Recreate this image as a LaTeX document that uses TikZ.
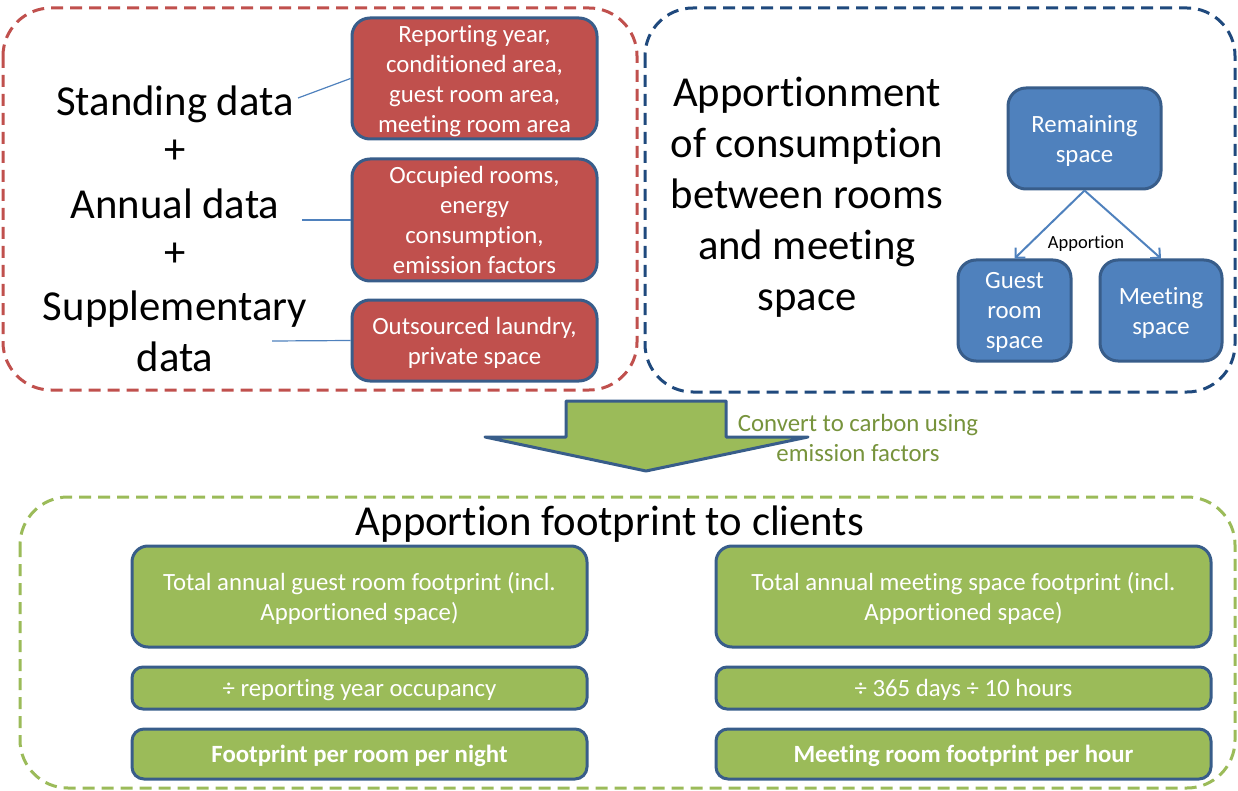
\documentclass[tikz,border=0pt]{standalone}
\usepackage{fontspec}
\setmainfont{Carlito}[Ligatures=NoCommon]
\usepackage{tikz}
\usetikzlibrary{arrows.meta}
\definecolor{fpred}{RGB}{192, 80, 77}
\definecolor{fpblue}{RGB}{79, 129, 189}
\definecolor{fpgreen}{RGB}{155, 187, 89}
\definecolor{fpnavy}{RGB}{56, 93, 138}
\definecolor{fpdarkblue}{RGB}{31, 73, 125}
\definecolor{fpolive}{RGB}{119, 147, 60}

\tikzset{
  bigtext/.style={inner sep=0pt, text depth=0pt, align=center, font=\fontsize{42.7}{51}\selectfont},
  boxtext/.style={inner sep=0pt, text depth=0pt, align=center, text=white, font=\fontsize{24.8}{30}\selectfont},
  databox/.style={boxtext, draw=fpnavy, line width=3pt, rounded corners=18pt, fill=fpred},
  spacebox/.style={boxtext, draw=fpnavy, line width=3pt, rounded corners=18pt, fill=fpblue},
  clientbox/.style={boxtext, draw=fpnavy, line width=3pt, rounded corners=16pt, fill=fpgreen},
  group/.style={line width=3pt, dash pattern=on 12pt off 7pt, rounded corners=48pt},
  link/.style={fpblue, line width=1.2pt},
  split/.style={fpblue, line width=2pt, -{Straight Barb[length=7pt, width=14pt]}}
}

\begin{document}
\begin{tikzpicture}[x=1pt, y=-1pt]
  \useasboundingbox (0,0) rectangle (1238,791);

  % dashed groups
  \draw [group, fpred] (3,8) rectangle (637,390);
  \draw [group, fpdarkblue] (645,8) rectangle (1235,392);
  \draw [group, fpgreen] (20,497) rectangle (1235,788);

  % input data
  \node [bigtext] (standing) at (175,101) {Standing data};
  \node [bigtext] (plusa) at (175,152) {+};
  \node [bigtext] (annual) at (175,204) {Annual data};
  \node [bigtext] (plusb) at (175,255) {+};
  \node [bigtext] (supp) at (175,331) {Supplementary\\data};

  \node [databox, minimum width=245pt, minimum height=121pt] (standbox) at (474.5,78.5)
    {Reporting year,\\conditioned area,\\guest room area,\\meeting room area};
  \node [databox, minimum width=245pt, minimum height=122pt] (annualbox) at (474.5,220)
    {Occupied rooms,\\energy\\consumption,\\emission factors};
  \node [databox, minimum width=245pt, minimum height=81pt] (suppbox) at (474.5,340.5)
    {Outsourced laundry,\\private space};

  \coordinate (standend) at (298,98);
  \coordinate (annualend) at (302,220);
  \coordinate (suppend) at (272,341);
  \draw [link] (standend) -- (standbox.west);
  \draw [link] (annualend) -- (annualbox.west);
  \draw [link] (suppend) -- (suppbox.west);

  % apportionment
  \node [bigtext] (apptext) at (807,193.5)
    {Apportionment\\of consumption\\between rooms\\and meeting\\space};
  \node [spacebox, minimum width=153pt, minimum height=101pt] (remain) at (1084.5,138.5)
    {Remaining\\space};
  \node [spacebox, minimum width=113pt, minimum height=101pt] (guest) at (1014.5,310.5)
    {Guest\\room\\space};
  \node [spacebox, minimum width=122pt, minimum height=101pt] (meet) at (1161,310.5)
    {Meeting\\space};
  \draw [split] (remain.south) -- (guest.north);
  \draw [split] (remain.south) -- (meet.north);
  \node [inner sep=0pt, text depth=0pt, font=\fontsize{18.5}{22}\selectfont] (apport) at (1086,242) {Apportion};

  % conversion arrow
  \filldraw [fill=fpgreen, draw=fpnavy, line width=3pt, line join=round]
    (566,401) -- (726,401) -- (726,437) -- (808,437) -- (646,471)
    -- (485,437) -- (566,437) -- cycle;
  \node [inner sep=0pt, text depth=0pt, align=center, text=fpolive, font=\fontsize{24.8}{30}\selectfont]
    (convert) at (858,438) {Convert to carbon using\\emission factors};

  % footprint per client
  \node [bigtext] (clients) at (610,521) {Apportion footprint to clients};
  \node [clientbox, minimum width=455pt, minimum height=101pt] (guesttotal) at (359.5,596.5)
    {Total annual guest room footprint (incl.\\Apportioned space)};
  \node [clientbox, rounded corners=11pt, minimum width=455pt, minimum height=42pt] (guestdiv) at (359.5,688)
    {÷ reporting year occupancy};
  \node [clientbox, rounded corners=12pt, minimum width=455pt, minimum height=50pt] (guestfp) at (359.5,754)
    {\bfseries Footprint per room per night};
  \node [clientbox, minimum width=495pt, minimum height=101pt] (meettotal) at (963.5,596.5)
    {Total annual meeting space footprint (incl.\\Apportioned space)};
  \node [clientbox, rounded corners=11pt, minimum width=495pt, minimum height=42pt] (meetdiv) at (963.5,688)
    {÷ 365 days ÷ 10 hours};
  \node [clientbox, rounded corners=12pt, minimum width=495pt, minimum height=50pt] (meetfp) at (963.5,754)
    {\bfseries Meeting room footprint per hour};
\end{tikzpicture}
\end{document}
